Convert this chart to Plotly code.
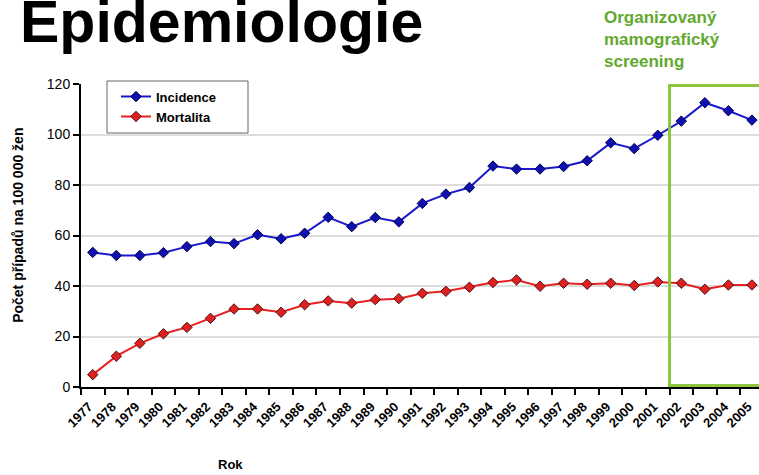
import plotly.graph_objects as go

# Data
roky = [str(r) for r in range(1977, 2006)]
incidence = [53.3, 52.1, 52.1, 53.2, 55.6, 57.6, 56.8, 60.3, 58.7, 60.9,
             67.2, 63.5, 67.1, 65.4, 72.7, 76.4, 79.0, 87.5, 86.3, 86.3,
             87.3, 89.6, 96.7, 94.4, 99.7, 105.3, 112.6, 109.4, 105.7]
mortalita = [4.9, 12.2, 17.3, 21.1, 23.6, 27.2, 30.9, 30.9, 29.6, 32.6,
             34.1, 33.2, 34.6, 35.0, 37.1, 37.9, 39.5, 41.4, 42.4, 39.9,
             41.1, 40.7, 41.1, 40.2, 41.6, 41.1, 38.7, 40.4, 40.4]
y_ticks = [0, 20, 40, 60, 80, 100, 120]

FONT = 'Liberation Sans, Arial, sans-serif'

fig = go.Figure()

fig.add_trace(go.Scatter(
    x=roky, y=incidence, name='<b>Incidence</b>', mode='lines+markers',
    line=dict(color='#1a1acc', width=2),
    marker=dict(symbol='diamond', size=8, color='#1010b0',
                line=dict(color='#000050', width=1)),
))
fig.add_trace(go.Scatter(
    x=roky, y=mortalita, name='<b>Mortalita</b>', mode='lines+markers',
    line=dict(color='#e82020', width=2),
    marker=dict(symbol='diamond', size=8, color='#e02020',
                line=dict(color='#501010', width=1)),
))

# Green frame marking screening period (starts between 2001 and 2002)
fig.add_shape(type='rect', xref='x', yref='y', x0=24.5, x1=29, y0=0.6, y1=119.4,
              line=dict(color='#8cc63f', width=3), fillcolor='rgba(0,0,0,0)')

# legend frame
fig.add_shape(type='rect', xref='paper', yref='paper',
              x0=(107 - 81) / 678, x1=(248 - 81) / 678,
              y0=(387 - 133) / 303, y1=(387 - 81) / 303,
              line=dict(color='#666666', width=1), fillcolor='white', layer='above')

fig.add_annotation(text='<b>Epidemiologie</b>', xref='paper', yref='paper',
                   x=-0.093, y=1.203, xanchor='left', yanchor='middle',
                   showarrow=False, font=dict(family=FONT, size=59, color='black'))

fig.add_annotation(text='<b>Organizovaný<br>mamografický<br>screening</b>',
                   xref='paper', yref='paper', x=0.768, y=1.1485,
                   xanchor='left', yanchor='middle', align='left',
                   showarrow=False, font=dict(family=FONT, size=17, color='#62a82e'))

fig.add_annotation(text='<b>Rok</b>', xref='paper', yref='paper',
                   x=0.22, y=-0.257, xanchor='center', yanchor='middle',
                   showarrow=False, font=dict(family=FONT, size=13, color='black'))

fig.add_annotation(text='<b>Počet případů na 100 000 žen</b>', xref='paper', yref='paper',
                   x=-0.093, y=0.535, xanchor='center', yanchor='middle', textangle=-90,
                   showarrow=False, font=dict(family=FONT, size=14, color='black'))

fig.update_layout(
    width=759, height=475,
    margin=dict(l=81, r=0, t=84, b=88),
    plot_bgcolor='white', paper_bgcolor='white',
    font=dict(family=FONT, size=12, color='black'),
    showlegend=True,
    legend=dict(x=(116 - 81) / 678, y=1.008, xanchor='left', yanchor='top',
                bgcolor='rgba(0,0,0,0)', borderwidth=0,
                font=dict(family=FONT, size=13, color='black'),
                itemwidth=30, tracegroupgap=0),
    xaxis=dict(type='category', range=[-0.5, 28.3], tickson='boundaries',
               ticks='outside', ticklen=6, tickwidth=2, tickcolor='black',
               tickangle=-45, showline=True, linecolor='black', linewidth=2,
               showgrid=False, automargin=False,
               ticklabelstandoff=5, ticklabelshift=-4,
               tickfont=dict(family=FONT, size=13, color='black'),
               tickprefix='<b>', ticksuffix='</b>'),
    yaxis=dict(range=[0, 120], tickvals=y_ticks, ticks='outside', ticklen=6,
               tickwidth=2, tickcolor='black', showline=True, linecolor='black',
               linewidth=2, showgrid=True, gridcolor='#dddddd', gridwidth=1.5,
               zeroline=False, automargin=False,
               tickfont=dict(family=FONT, size=14, color='black'),
               tickprefix='<b>', ticksuffix='</b>'),
)

# drop the browser's default 8px body margin so the figure sits at the window corner
fig.write_html("out.html", config={'displayModeBar': False},
               post_script="document.body.style.margin='0';")
